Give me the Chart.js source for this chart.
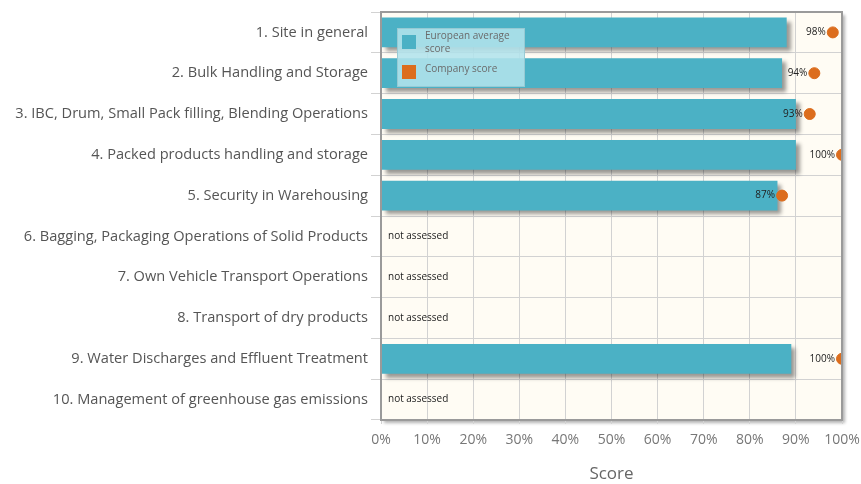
<!DOCTYPE html>
<html lang="en">
<head>
  <meta charset="UTF-8">
  <title>Score by section</title>
  <script src="https://cdn.jsdelivr.net/npm/chart.js"></script>
  <style>
    html, body {
      margin: 0;
      padding: 0;
      background: #ffffff;
    }
    #wrap {
      width: 861px;
      height: 484px;
      position: relative;
    }
  </style>
</head>
<body>
  <div id="wrap"><canvas id="grafico"></canvas></div>

  <script>
    const categorias = [
      '1. Site in general',
      '2. Bulk Handling and Storage',
      '3. IBC, Drum, Small Pack filling, Blending Operations',
      '4. Packed products handling and storage',
      '5. Security in Warehousing',
      '6. Bagging, Packaging Operations of Solid Products',
      '7. Own Vehicle Transport Operations',
      '8. Transport of dry products',
      '9. Water Discharges and Effluent Treatment',
      '10. Management of greenhouse gas emissions'
    ];
    const mediaEuropeia = [88, 87, 90, 90, 86, null, null, null, 89, null];
    const notaEmpresa = [98, 94, 93, 100, 87, null, null, null, 100, null];
    const ticksX = [0, 10, 20, 30, 40, 50, 60, 70, 80, 90, 100];

    const corBarra = '#4bb1c5';
    const corPonto = '#dc6d1d';
    const fonte = '"Open Sans", "Liberation Sans", Arial, sans-serif';

    // fundo creme + borda com sombra
    const fundoPlugin = {
      id: 'fundo',
      beforeDraw(chart) {
        const { ctx, chartArea: a } = chart;
        ctx.save();
        ctx.shadowColor = 'rgba(0,0,0,0.3)';
        ctx.shadowOffsetX = 3;
        ctx.shadowOffsetY = 3;
        ctx.shadowBlur = 3;
        ctx.fillStyle = '#fffcf4';
        ctx.fillRect(a.left, a.top, a.right - a.left, a.bottom - a.top);
        ctx.restore();
      },
      afterDraw(chart) {
        const { ctx, chartArea: a } = chart;
        ctx.save();
        ctx.strokeStyle = '#9a9a9a';
        ctx.lineWidth = 2;
        ctx.strokeRect(a.left, a.top, a.right - a.left, a.bottom - a.top);
        ctx.restore();
      }
    };

    // sombra das barras
    const sombraPlugin = {
      id: 'sombra',
      beforeDatasetDraw(chart, args) {
        if (args.index !== 0) return;
        const ctx = chart.ctx;
        ctx.save();
        ctx.shadowColor = 'rgba(0,0,0,0.4)';
        ctx.shadowOffsetX = 4;
        ctx.shadowOffsetY = 4;
        ctx.shadowBlur = 4;
      },
      afterDatasetDraw(chart, args) {
        if (args.index !== 0) return;
        chart.ctx.restore();
      }
    };

    // rótulos de valor e "not assessed"
    const rotulosPlugin = {
      id: 'rotulos',
      afterDatasetsDraw(chart) {
        const { ctx, chartArea: a } = chart;
        const pontos = chart.getDatasetMeta(1).data;
        const yScale = chart.scales.y;
        ctx.save();
        ctx.font = '10px ' + fonte;
        ctx.fillStyle = '#222';
        ctx.textBaseline = 'middle';
        notaEmpresa.forEach((v, i) => {
          const y = yScale.getPixelForValue(i);
          if (v === null) {
            ctx.textAlign = 'left';
            ctx.fillText('not assessed', a.left + 7, y);
          } else {
            ctx.textAlign = 'right';
            ctx.fillText(v + '%', pontos[i].x - 7, y);
          }
        });
        ctx.restore();
      }
    };

    // legenda dentro da área do gráfico
    const legendaPlugin = {
      id: 'legendaInterna',
      afterDraw(chart) {
        const { ctx, chartArea: a } = chart;
        const x = a.left + 16, y = a.top + 16;
        ctx.save();
        ctx.fillStyle = 'rgba(178,226,236,0.88)';
        ctx.fillRect(x, y, 128, 59);
        ctx.strokeStyle = 'rgba(150,200,210,0.9)';
        ctx.lineWidth = 1;
        ctx.strokeRect(x + 0.5, y + 0.5, 127, 58);
        ctx.fillStyle = corBarra;
        ctx.fillRect(x + 5, y + 7, 14, 14);
        ctx.fillStyle = corPonto;
        ctx.fillRect(x + 5, y + 37, 14, 14);
        ctx.font = '10px ' + fonte;
        ctx.fillStyle = '#6a6a6a';
        ctx.textBaseline = 'middle';
        ctx.fillText('European average', x + 28, y + 8);
        ctx.fillText('score', x + 28, y + 21);
        ctx.fillText('Company score', x + 28, y + 41);
        ctx.restore();
      }
    };

    new Chart(document.getElementById('grafico'), {
      type: 'bar',
      data: {
        labels: categorias,
        datasets: [{
          label: 'European average score',
          data: mediaEuropeia,
          backgroundColor: corBarra,
          categoryPercentage: 1,
          barPercentage: 0.73,
          order: 2
        }, {
          type: 'line',
          label: 'Company score',
          data: notaEmpresa,
          showLine: false,
          pointRadius: 5.5,
          pointHoverRadius: 5.5,
          pointBackgroundColor: corPonto,
          pointBorderColor: corPonto,
          clip: 0,
          order: 1
        }]
      },
      options: {
        indexAxis: 'y',
        responsive: true,
        maintainAspectRatio: false,
        animation: false,
        layout: { padding: { top: 12, right: 19, left: 0, bottom: 0 } },
        plugins: {
          legend: { display: false },
          tooltip: { enabled: false }
        },
        scales: {
          x: {
            min: 0,
            max: 100,
            afterBuildTicks(scale) {
              scale.ticks = ticksX.map(v => ({ value: v }));
            },
            afterFit(scale) {
              scale.height = 64;
              scale.paddingLeft = 0;
              scale.paddingRight = 0;
            },
            ticks: {
              callback: v => v + '%',
              color: '#777',
              font: { family: fonte, size: 14 },
              padding: 8,
              maxRotation: 0
            },
            grid: { color: '#d2d2d2', tickLength: 4 },
            border: { display: false },
            title: {
              display: true,
              text: 'Score',
              color: '#666',
              font: { family: fonte, size: 17 },
              padding: { top: 8, bottom: 0 }
            }
          },
          y: {
            afterFit(scale) { scale.width = 381; },
            ticks: {
              color: '#555',
              font: { family: fonte, size: 14.6 },
              padding: 3
            },
            grid: { color: '#d2d2d2', tickLength: 10 },
            border: { display: false }
          }
        }
      },
      plugins: [fundoPlugin, sombraPlugin, rotulosPlugin, legendaPlugin]
    });
  </script>
</body>
</html>
